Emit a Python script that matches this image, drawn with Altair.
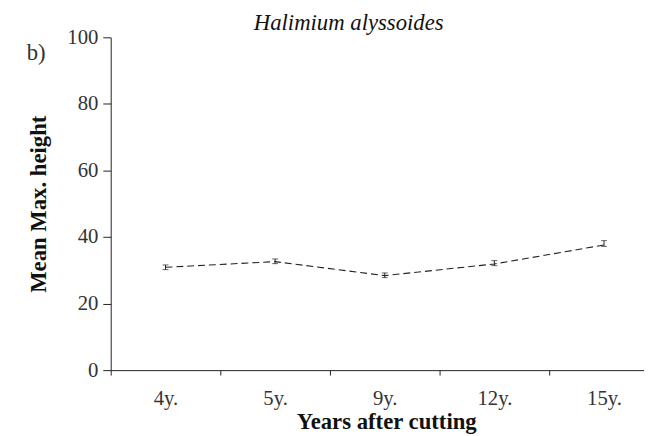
import altair as alt
import pandas as pd

years = ["4y.", "5y.", "9y.", "12y.", "15y."]
means = [30.9, 32.6, 28.4, 31.9, 37.6]
lower = [30.2, 32.0, 27.8, 31.4, 37.2]
upper = [31.6, 33.4, 29.2, 32.9, 38.9]

df = pd.DataFrame({"year": years, "mean": means, "lo": lower, "hi": upper})

FONT = "Liberation Serif"
W = 540
H = 337

x = alt.X("year:N", sort=years,
          scale=alt.Scale(paddingInner=0, paddingOuter=0, range=[0, 555]),
          axis=alt.Axis(title="Years after cutting", labelAngle=0, tickBand="extent",
                        labelFont=FONT, labelFontSize=21, labelColor="#333",
                        titleFont=FONT, titleFontSize=23, titleFontWeight="bold",
                        titleColor="#111", domainColor="#222", tickColor="#222",
                        tickSize=5, labelPadding=13,
                        titleX=279, titleY=59, titleBaseline="alphabetic"))
y_scale = alt.Scale(domain=[0, 100], nice=False)
y_axis = alt.Axis(title="Mean Max. height", values=[0, 20, 40, 60, 80, 100],
                  labelFont=FONT, labelFontSize=21, labelColor="#333",
                  titleFont=FONT, titleFontSize=23, titleFontWeight="bold",
                  titleColor="#111", domainColor="#222", tickColor="#222",
                  tickSize=8, labelPadding=5, grid=False,
                  titleX=-66, titleBaseline="alphabetic")

base = alt.Chart(df)
line = base.mark_line(color="#222", strokeWidth=1.1, strokeDash=[7, 4]).encode(
    x=x, y=alt.Y("mean:Q", scale=y_scale, axis=y_axis))
err = base.mark_errorbar(ticks=alt.MarkConfig(size=6, color="#222"), color="#222",
                         thickness=1).encode(
    x=alt.X("year:N", sort=years),
    y=alt.Y("lo:Q", scale=y_scale, title="Mean Max. height"),
    y2="hi:Q")
label = alt.Chart(pd.DataFrame({"t": ["b)"]})).mark_text(
    font=FONT, fontSize=23, color="#333", align="left", baseline="middle").encode(
    text="t:N", x=alt.value(-85), y=alt.value(16))

chart = alt.layer(line, err, label).properties(
    width=W, height=H,
    title=alt.TitleParams("Halimium alyssoides", font=FONT, fontSize=23,
                          fontStyle="italic", fontWeight="normal", color="#111",
                          anchor="middle", dx=-29, offset=-2, dy=7),
    autosize=alt.AutoSizeParams(type="none"),
    padding={"left": 104, "top": 27, "right": 0, "bottom": 64},
).configure(background="white").configure_view(stroke=None)

chart.save("out.html", embed_options={"renderer": "svg", "actions": False})
